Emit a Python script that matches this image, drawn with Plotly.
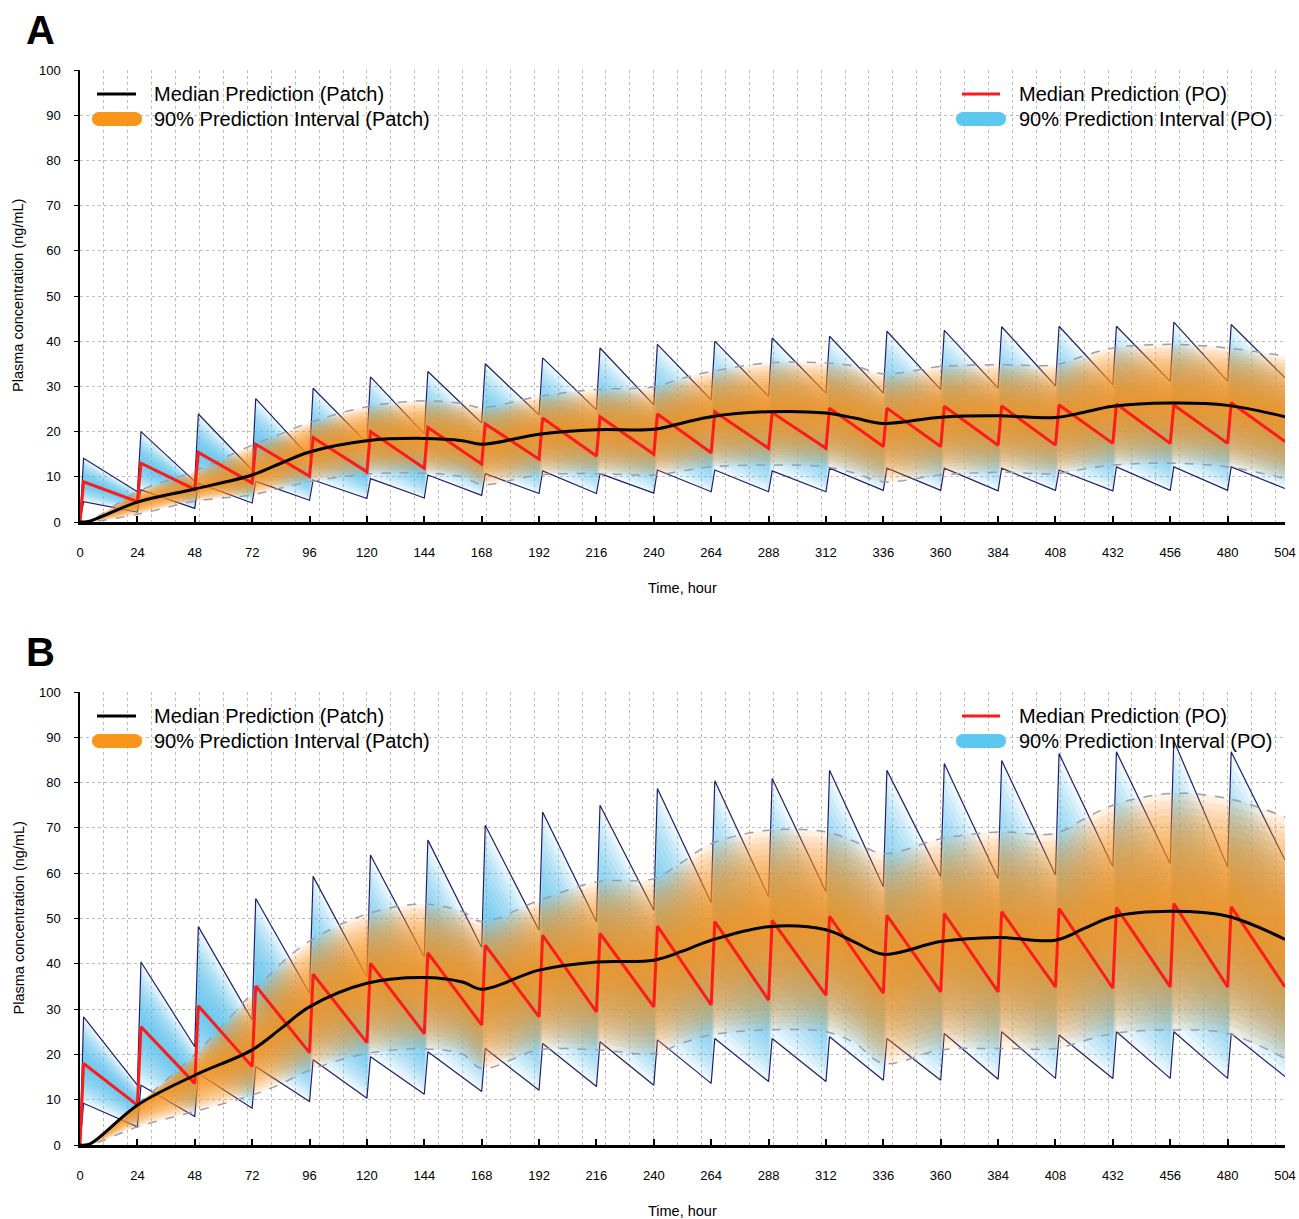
import plotly.graph_objects as go

W, H = 1299, 1219
FONT = "Liberation Sans, Arial, sans-serif"

# ---- dosing schedule (oral, once daily) ----
DOSE_HOURS = [0, 24, 48, 72, 96, 120, 144, 168, 192, 216, 240, 264, 288, 312,
              336, 360, 384, 408, 432, 456, 480]
PEAK_LAG = 1.5      # hours from oral dose to peak
END_HOUR = 504

# ---- patch: median and 90% interval read at these hours ----
PATCH_HOURS = [0, 4, 24, 48, 72, 84, 96, 120, 144, 160, 168, 192, 216, 240, 252,
               264, 288, 312, 324, 336, 360, 384, 408, 420, 432, 456, 480, 504]

patch_med_a = [0, 0.2, 4.4, 7.3, 10.4, 13.0, 15.5, 18.0, 18.5, 18.0, 17.2, 19.4, 20.4, 20.5,
               21.9, 23.3, 24.4, 24.1, 23.0, 21.8, 23.2, 23.5, 23.1, 24.3, 25.6, 26.3, 25.8, 23.3]
patch_hi_a = [0, 0.3, 6.7, 11.3, 17.0, 19.5, 22.0, 25.5, 26.8, 26.2, 25.3, 27.8, 29.3, 29.9,
              31.8, 33.3, 35.2, 35.2, 34.5, 32.8, 34.4, 34.8, 34.8, 36.8, 38.5, 39.3, 38.5, 36.7]
patch_lo_a = [0, 0, 1.7, 4.6, 6.0, 7.5, 8.9, 10.6, 10.8, 10.0, 8.3, 10.4, 10.7, 10.4,
              11.3, 12.2, 12.6, 12.2, 10.8, 8.9, 10.4, 11.0, 10.7, 11.7, 12.6, 13.0, 12.2, 9.6]

patch_med_b = [0, 0.2, 8.8, 15.4, 21.0, 25.7, 30.5, 35.7, 37.0, 36.0, 34.4, 38.6, 40.4, 40.8,
               42.8, 45.2, 48.2, 47.5, 44.8, 42.1, 44.9, 45.8, 45.2, 47.8, 50.4, 51.6, 50.5, 45.4]
patch_hi_b = [0, 0.4, 9.0, 20.0, 33.5, 40.0, 45.0, 51.0, 53.2, 51.5, 49.3, 54.0, 58.1, 58.8,
              62.5, 66.5, 69.5, 69.1, 67.0, 64.3, 67.6, 69.1, 68.8, 72.0, 75.0, 77.6, 76.5, 72.4]
patch_lo_b = [0, 0, 4.0, 7.4, 11.0, 13.5, 16.5, 20.2, 21.2, 20.0, 16.9, 21.0, 21.0, 20.2,
              22.5, 24.3, 25.4, 25.0, 22.5, 18.0, 21.0, 21.3, 21.3, 23.0, 24.6, 25.4, 24.6, 19.1]

# ---- PO: peak after each dose and trough at the end of each dosing interval ----
po_med_peak_a = [8.9, 13.0, 15.4, 17.2, 18.7, 20.0, 20.9, 21.7, 23.0, 23.3, 23.9, 24.4, 24.2,
                 25.2, 25.2, 25.6, 25.7, 25.9, 26.1, 25.9, 26.4]
po_med_trough_a = [4.5, 7.2, 8.6, 10.1, 11.1, 11.9, 12.8, 13.9, 14.6, 15.0, 15.3, 16.3, 16.3,
                   16.7, 16.7, 17.0, 17.0, 17.4, 17.4, 17.4, 17.8]
po_hi_peak_a = [14.1, 20.0, 23.9, 27.3, 29.6, 32.1, 33.3, 35.0, 36.3, 38.5, 39.3, 40.0, 40.7,
                41.1, 42.2, 42.4, 43.2, 43.3, 43.3, 44.2, 43.7]
po_hi_trough_a = [6.7, 9.0, 11.5, 14.4, 17.5, 19.5, 21.9, 23.7, 24.8, 25.9, 27.0, 27.8, 28.5,
                  28.5, 29.3, 29.6, 30.1, 30.4, 31.1, 31.1, 31.9]
po_lo_peak_a = [4.5, 7.1, 8.6, 9.0, 9.3, 9.6, 10.4, 10.7, 11.3, 10.7, 11.5, 11.5, 11.3, 11.9,
                11.9, 11.9, 11.9, 11.5, 12.2, 12.2, 12.2]
po_lo_trough_a = [2.2, 3.0, 4.2, 4.8, 5.2, 5.3, 5.9, 6.3, 6.3, 6.4, 6.7, 6.7, 6.7, 7.0, 7.0,
                  6.9, 7.0, 6.9, 7.0, 7.0, 7.4]

po_med_peak_b = [18.0, 26.1, 30.7, 35.1, 37.7, 40.1, 42.4, 44.1, 46.3, 46.7, 48.3, 49.3, 49.6,
                 50.5, 50.7, 51.1, 51.5, 52.2, 52.4, 53.3, 52.6]
po_med_trough_b = [8.8, 13.6, 17.3, 20.4, 22.6, 24.6, 26.5, 28.3, 29.4, 30.5, 30.9, 32.0, 33.1,
                   33.5, 33.8, 33.8, 34.9, 34.6, 34.9, 34.9, 34.9]
po_hi_peak_b = [28.3, 40.4, 48.2, 54.4, 59.3, 64.0, 67.3, 70.6, 73.5, 75.0, 78.7, 80.4, 80.9,
                82.7, 82.7, 84.2, 84.9, 86.4, 86.8, 89.3, 86.8]
po_hi_trough_b = [13.2, 21.7, 27.6, 33.5, 37.1, 41.5, 43.6, 47.4, 49.3, 51.8, 53.5, 54.8, 55.9,
                  57.0, 59.2, 58.8, 59.6, 61.4, 62.1, 61.4, 62.9]
po_lo_peak_b = [9.2, 13.2, 15.8, 17.3, 18.8, 19.5, 20.6, 21.3, 22.4, 22.8, 23.2, 23.5, 23.5,
                23.9, 23.5, 24.6, 25.0, 24.3, 25.0, 25.0, 24.6]
po_lo_trough_b = [4.0, 6.3, 8.1, 9.6, 10.3, 11.2, 11.8, 12.1, 12.9, 13.2, 13.6, 14.0, 14.0,
                  14.3, 14.3, 14.5, 14.7, 14.7, 14.7, 14.7, 15.1]

Y_TICKS = [0, 10, 20, 30, 40, 50, 60, 70, 80, 90, 100]
X_TICKS = DOSE_HOURS + [END_HOUR]
X_GRID = list(range(0, END_HOUR + 1, 10))

ORANGE = "248,150,30"
BLUE = "80,192,236"


def px(x):
    return x / W


def py(y):
    return 1 - y / H


def po_curve(peaks, troughs):
    """Sawtooth polyline: start at 0, peak shortly after each dose, trough at next dose."""
    xs, ys = [0], [0]
    for t, pk, tr in zip(DOSE_HOURS, peaks, troughs):
        xs += [t + PEAK_LAG, t + 24]
        ys += [pk, tr]
    return xs, ys


def add_band(fig, x, lo, mid, hi, rgb, alpha, n, shape, xa, ya):
    # nested fills so that colour builds up towards the median
    for k in range(n):
        f = k / n
        lower = [l + f * (m - l) for l, m in zip(lo, mid)]
        upper = [h - f * (h - m) for h, m in zip(hi, mid)]
        fig.add_trace(go.Scatter(x=x, y=lower, mode="lines", line=dict(width=0, shape=shape),
                                 hoverinfo="skip", showlegend=False, xaxis=xa, yaxis=ya))
        fig.add_trace(go.Scatter(x=x, y=upper, mode="lines", line=dict(width=0, shape=shape),
                                 fill="tonexty", fillcolor=f"rgba({rgb},{alpha})",
                                 hoverinfo="skip", showlegend=False, xaxis=xa, yaxis=ya))


def add_panel(fig, xa, ya, patch, po):
    p_med, p_lo, p_hi = patch
    (m_pk, m_tr), (lo_pk, lo_tr), (hi_pk, hi_tr) = po
    tx, po_med = po_curve(m_pk, m_tr)
    _, po_lo = po_curve(lo_pk, lo_tr)
    _, po_hi = po_curve(hi_pk, hi_tr)

    # PO 90% interval
    add_band(fig, tx, po_lo, po_med, po_hi, BLUE, 0.11, 14, "linear", xa, ya)
    for yy in (po_hi, po_lo):
        fig.add_trace(go.Scatter(x=tx, y=yy, mode="lines", line=dict(color="#1e1e6e", width=1.2),
                                 hoverinfo="skip", showlegend=False, xaxis=xa, yaxis=ya))

    # patch 90% interval
    add_band(fig, PATCH_HOURS, p_lo, p_med, p_hi, ORANGE, 0.13, 16, "spline", xa, ya)
    for yy in (p_hi, p_lo):
        fig.add_trace(go.Scatter(x=PATCH_HOURS, y=yy, mode="lines",
                                 line=dict(color="#9c9cab", width=1.5, dash="dash", shape="spline"),
                                 hoverinfo="skip", showlegend=False, xaxis=xa, yaxis=ya))

    # medians
    fig.add_trace(go.Scatter(x=tx, y=po_med, mode="lines", line=dict(color="#ff1a1a", width=3),
                             name="Median Prediction (PO)", showlegend=False, xaxis=xa, yaxis=ya))
    fig.add_trace(go.Scatter(x=PATCH_HOURS, y=p_med, mode="lines",
                             line=dict(color="black", width=3, shape="spline"),
                             name="Median Prediction (Patch)", showlegend=False, xaxis=xa, yaxis=ya))


fig = go.Figure()
add_panel(fig, "x", "y",
          (patch_med_a, patch_lo_a, patch_hi_a),
          ((po_med_peak_a, po_med_trough_a), (po_lo_peak_a, po_lo_trough_a),
           (po_hi_peak_a, po_hi_trough_a)))
add_panel(fig, "x2", "y2",
          (patch_med_b, patch_lo_b, patch_hi_b),
          ((po_med_peak_b, po_med_trough_b), (po_lo_peak_b, po_lo_trough_b),
           (po_hi_peak_b, po_hi_trough_b)))

XDOM = [px(80), px(1285)]
panels = [("", 70, 522), ("2", 692, 1145)]
tick_font = dict(family=FONT, size=13, color="black")
grid = dict(gridcolor="#bdbdbd", griddash="dot", gridwidth=1)

layout_axes = {}
for aid, top, bottom in panels:
    layout_axes[f"xaxis{aid}"] = dict(
        domain=XDOM, range=[0, END_HOUR], anchor=f"y{aid}", automargin=False,
        tickmode="array", tickvals=X_TICKS, ticks="inside", ticklen=6, tickwidth=2,
        tickcolor="black", showgrid=False, zeroline=False,
        showline=True, linecolor="black", linewidth=3,
        minor=dict(tickmode="array", tickvals=X_GRID, showgrid=True, ticks="", **grid),
        tickfont=tick_font, ticklabelstandoff=16)
    layout_axes[f"yaxis{aid}"] = dict(
        domain=[py(bottom), py(top)], range=[0, 100], anchor=f"x{aid}", automargin=False,
        tickmode="array", tickvals=Y_TICKS, ticks="outside", ticklen=4, tickwidth=1,
        tickcolor="black", showgrid=True, showline=True, linecolor="black", linewidth=1.5,
        zeroline=False, tickfont=tick_font, ticklabelstandoff=11, **grid)

annotations = []
shapes = []


def text(x, y, s, size, anchor="left", bold=False, angle=0):
    annotations.append(dict(
        x=px(x), y=py(y), xref="paper", yref="paper", text=f"<b>{s}</b>" if bold else s,
        showarrow=False, xanchor=anchor, yanchor="middle", textangle=angle,
        font=dict(family=FONT, size=size, color="black")))


def pill(cx, cy, color):
    r, half = 7, 25
    c = r * 0.5523
    s = half - r
    path = (f"M {-s},{-r} L {s},{-r} C {s + c},{-r} {half},{-c} {half},0 "
            f"C {half},{c} {s + c},{r} {s},{r} L {-s},{r} "
            f"C {-s - c},{r} {-half},{c} {-half},0 C {-half},{-c} {-s - c},{-r} {-s},{-r} Z")
    shapes.append(dict(type="path", xref="paper", yref="paper", xsizemode="pixel",
                       ysizemode="pixel", xanchor=px(cx), yanchor=py(cy), path=path,
                       fillcolor=color, line=dict(width=0)))


def legend_line(x0, x1, y, color):
    shapes.append(dict(type="line", xref="paper", yref="paper", x0=px(x0), x1=px(x1),
                       y0=py(y), y1=py(y), line=dict(color=color, width=3)))


for letter, top, bottom in (("A", 70, 522), ("B", 692, 1145)):
    text(40, top - 40, letter, 40, anchor="center", bold=True)
    text(18, (top + bottom) / 2, "Plasma concentration (ng/mL)", 14.5, anchor="center", angle=-90)
    text(682, bottom + 66, "Time, hour", 14.5, anchor="center")
    ly1, ly2 = top + 24, top + 49
    legend_line(97, 136, ly1, "black")
    pill(117, ly2, "rgb(248,150,28)")
    text(152, ly1, "Median Prediction (Patch)", 20)
    text(152, ly2, "90% Prediction Interval (Patch)", 20)
    legend_line(962, 1000, ly1, "#ff1a1a")
    pill(981, ly2, "rgb(92,200,238)")
    text(1017, ly1, "Median Prediction (PO)", 20)
    text(1017, ly2, "90% Prediction Interval (PO)", 20)

fig.update_layout(
    template="none",
    width=W, height=H, autosize=False,
    margin=dict(l=0, r=0, t=0, b=0, pad=0, autoexpand=False),
    paper_bgcolor="white", plot_bgcolor="white",
    showlegend=False,
    annotations=annotations, shapes=shapes,
    font=dict(family=FONT),
    **layout_axes)

# keep the 1299x1219 figure flush with the window: no body margin, no scrollbars
page_fix = ("document.body.style.margin = '0px';"
            "document.documentElement.style.overflow = 'hidden';"
            "document.body.style.overflow = 'hidden';")
fig.write_html("out.html", config={"displayModeBar": False}, post_script=page_fix)
